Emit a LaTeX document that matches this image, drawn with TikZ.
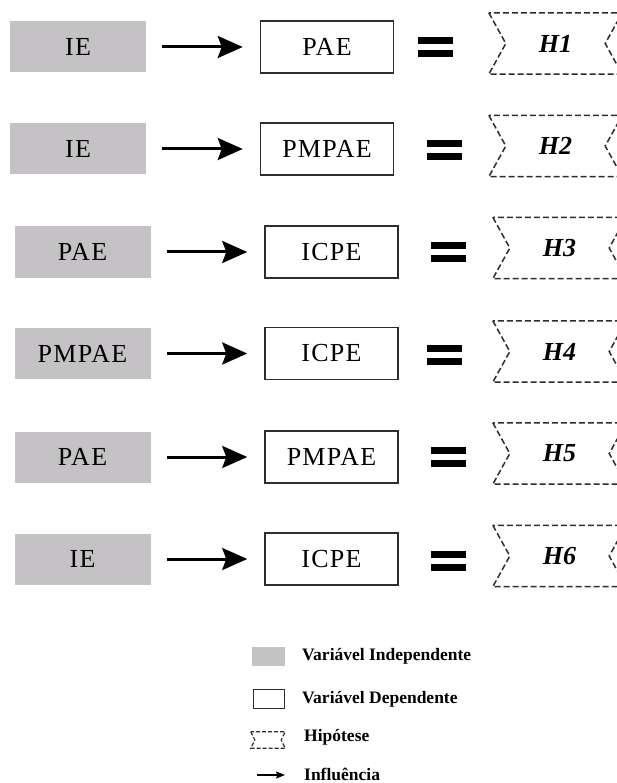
\documentclass[tikz,border=0pt]{standalone}
\usepackage{fontspec}
\setmainfont{Liberation Serif}
\usetikzlibrary{arrows.meta}

\definecolor{ivgray}{RGB}{196,194,196}
\definecolor{edgegray}{RGB}{45,45,45}

% two thick bars of the "=" sign
\newcommand{\eqbars}{\vbox{\hrule width 35pt height 7pt\vskip 6pt\hrule width 35pt height 7pt}}
% dashed ribbon round a hypothesis node
\newcommand{\hypoutline}[2]{\draw[hypline] (#1.north west) -- ([xshift=#2]#1.west) -- (#1.south west) -- (#1.south east) -- ([xshift=-#2]#1.east) -- (#1.north east) -- cycle;}

\tikzset{
  boxfont/.style={font=\fontsize{26}{30}\selectfont\addfontfeatures{LetterSpace=5}},
  indep/.style={boxfont, fill=ivgray, minimum width=136pt, minimum height=51pt, inner sep=0pt},
  dep/.style={boxfont, draw=edgegray, line width=1.5pt, minimum width=133pt, minimum height=52pt, inner sep=0pt},
  infl/.style={line width=3pt, shorten <=16pt, shorten >=17pt, -{Stealth[length=25pt,width=22pt,inset=4pt]}},
  eqsign/.style={inner sep=0pt},
  hypnode/.style={minimum width=133pt, minimum height=61pt, inner sep=0pt, font=\fontsize{26}{30}\selectfont\bfseries\itshape},
  hypline/.style={draw=edgegray, line width=1.5pt, dash pattern=on 6pt off 3pt},
  legtext/.style={anchor=west, inner sep=0pt, font=\fontsize{17.5}{20}\selectfont\bfseries},
}

\begin{document}
\begin{tikzpicture}[x=1pt, y=-1pt]
  \clip (0,0) rectangle (617,783);
  \fill[white] (0,0) rectangle (617,783);
  % H1
  \node [indep] (iv1) at (78,47) {IE};
  \node [dep] (dv1) at (327,47) {PAE};
  \draw [infl] (iv1.east) -- (dv1.west);
  \node [eqsign] (eq1) at (435,47) {\eqbars};
  \node [hypnode] (h1) at (555.5,43.5) {H1};
  \hypoutline{h1}{17pt}
  % H2
  \node [indep] (iv2) at (78,149) {IE};
  \node [dep] (dv2) at (327,149) {PMPAE};
  \draw [infl] (iv2.east) -- (dv2.west);
  \node [eqsign] (eq2) at (444.5,150) {\eqbars};
  \node [hypnode] (h2) at (555.5,146) {H2};
  \hypoutline{h2}{17pt}
  % H3
  \node [indep] (iv3) at (82.5,252) {PAE};
  \node [dep] (dv3) at (331.5,252) {ICPE};
  \draw [infl] (iv3.east) -- (dv3.west);
  \node [eqsign] (eq3) at (448.5,252) {\eqbars};
  \node [hypnode] (h3) at (559.5,248) {H3};
  \hypoutline{h3}{17pt}
  % H4
  \node [indep] (iv4) at (82.5,353.5) {PMPAE};
  \node [dep] (dv4) at (331.5,353.5) {ICPE};
  \draw [infl] (iv4.east) -- (dv4.west);
  \node [eqsign] (eq4) at (444.5,355) {\eqbars};
  \node [hypnode] (h4) at (559.5,351.5) {H4};
  \hypoutline{h4}{17pt}
  % H5
  \node [indep] (iv5) at (82.5,457) {PAE};
  \node [dep] (dv5) at (331.5,457) {PMPAE};
  \draw [infl] (iv5.east) -- (dv5.west);
  \node [eqsign] (eq5) at (448.5,457) {\eqbars};
  \node [hypnode] (h5) at (559.5,453.5) {H5};
  \hypoutline{h5}{17pt}
  % H6
  \node [indep] (iv6) at (82.5,559) {IE};
  \node [dep] (dv6) at (331.5,559) {ICPE};
  \draw [infl] (iv6.east) -- (dv6.west);
  \node [eqsign] (eq6) at (448.5,560.5) {\eqbars};
  \node [hypnode] (h6) at (559.5,556) {H6};
  \hypoutline{h6}{17pt}
  %
  % legenda
  \node [fill=ivgray, minimum width=33pt, minimum height=19pt, inner sep=0pt] (l1) at (268.5,656.5) {};
  \node [legtext] (l1t) at (302,656) {Variável Independente};
  \node [draw=edgegray, line width=1.3pt, minimum width=31pt, minimum height=19pt, inner sep=0pt] (l2) at (269,699) {};
  \node [legtext] (l2t) at (302,699) {Variável Dependente};
  \node [minimum width=34pt, minimum height=16pt, inner sep=0pt] (l3) at (268,740) {};
  \draw [draw=edgegray, line width=1.2pt, dash pattern=on 4pt off 2pt] (l3.north west) -- ([xshift=4pt]l3.west) -- (l3.south west) -- (l3.south east) -- ([xshift=-4pt]l3.east) -- (l3.north east) -- cycle;
  \node [legtext] (l3t) at (304,737) {Hipótese};
  \coordinate (l4a) at (257,775);
  \coordinate (l4b) at (285,775);
  \draw [line width=1.3pt, -{Stealth[length=9pt,width=7pt,inset=1.5pt]}] (l4a) -- (l4b);
  \node [legtext] (l4t) at (304,774.5) {Influência};
\end{tikzpicture}
\end{document}
